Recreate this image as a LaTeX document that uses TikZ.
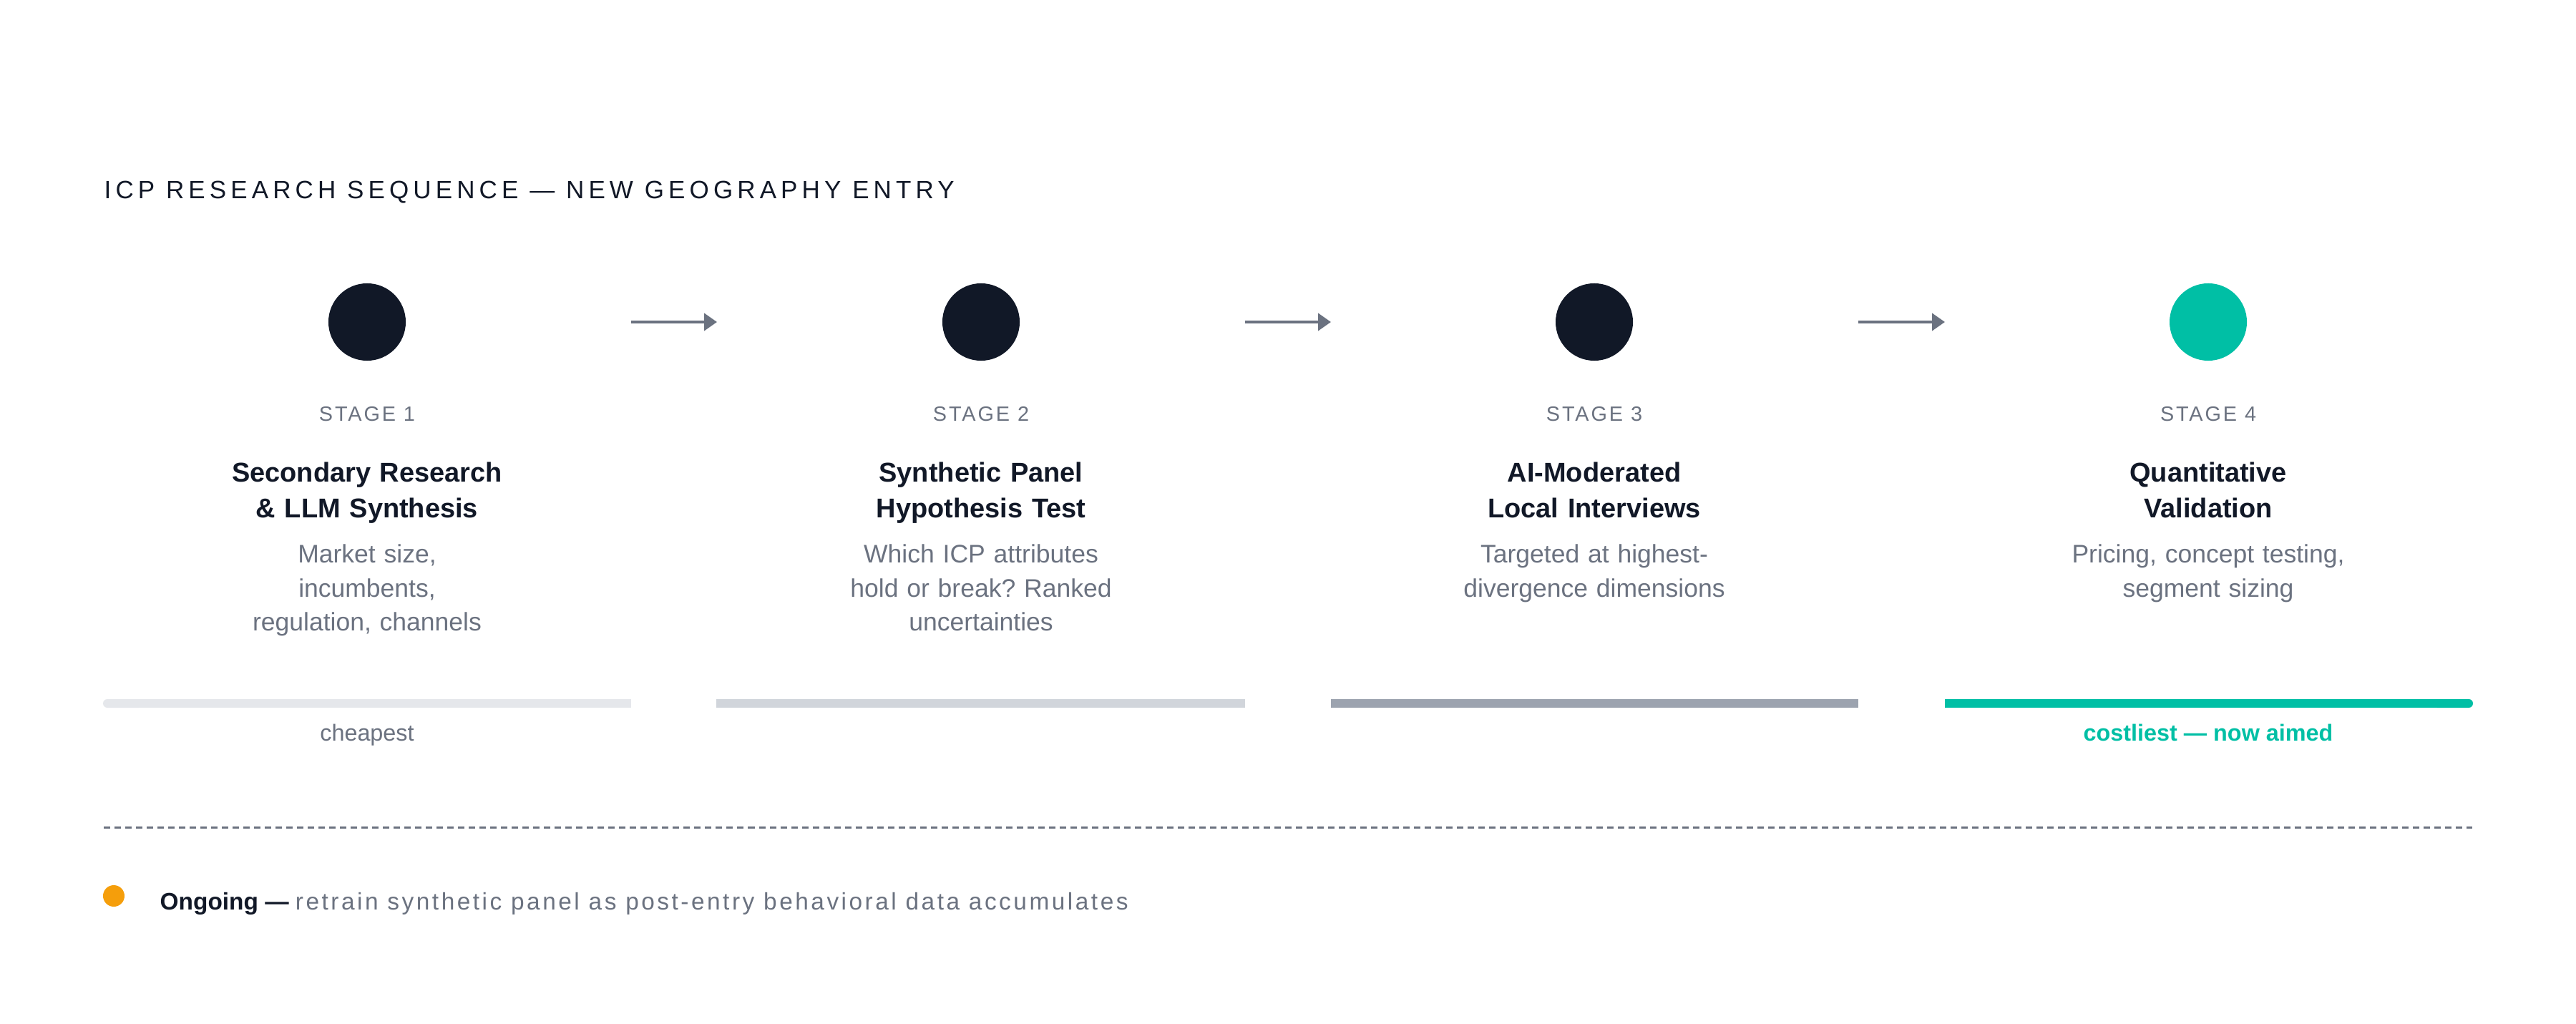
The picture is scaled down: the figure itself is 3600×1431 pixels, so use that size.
\documentclass[tikz,border=0pt]{standalone}
\usepackage{fontspec}
\setmainfont{Liberation Sans}
\newfontfamily\headfont[LetterSpace=17.5]{Liberation Sans}
\newfontfamily\stagefont[LetterSpace=10]{Liberation Sans}
\newfontfamily\wideregfont[LetterSpace=10.5]{Liberation Sans}
\usetikzlibrary{arrows.meta}
\definecolor{ink}{HTML}{111827}
\definecolor{muted}{HTML}{6B7280}
\definecolor{teal}{HTML}{00BFA5}
\definecolor{barA}{HTML}{E5E7EB}
\definecolor{barB}{HTML}{D1D5DB}
\definecolor{barC}{HTML}{9CA3AF}
\definecolor{amber}{HTML}{F59E0B}
\tikzset{
  dot/.style={circle, fill=ink, minimum size=1.08cm, inner sep=0pt},
  stagelbl/.style={anchor=base, inner sep=0pt, text=muted, font=\stagefont\fontsize{8.2}{10}\selectfont},
  ttl/.style={anchor=base, inner sep=0pt, text=ink, text width=5cm, align=center, font=\fontsize{10.8}{13.94}\selectfont\bfseries},
  desc/.style={anchor=base, inner sep=0pt, text=muted, text width=5cm, align=center, font=\fontsize{10.1}{13.37}\selectfont},
  barlbl/.style={anchor=base, inner sep=0pt, text=muted, font=\fontsize{9.2}{11}\selectfont},
  arr/.style={draw=muted, line width=0.04cm, -{Triangle[length=0.18cm, width=0.24cm]}},
}
\begin{document}
\frenchspacing
\begin{tikzpicture}[x=0.01cm, y=-0.01cm]
\useasboundingbox[fill=white] (0,0) rectangle (3600,1431);

\node[anchor=base west, inner sep=0pt, text=ink, font=\headfont\fontsize{9.95}{12}\selectfont] (head) at (145,278) {ICP RESEARCH SEQUENCE — NEW GEOGRAPHY ENTRY};

% circles
\node[dot] (c1) at (513,450) {};
\node[dot] (c2) at (1371,450) {};
\node[dot] (c3) at (2228,450) {};
\node[dot, fill=teal] (c4) at (3086,450) {};

% arrows
\coordinate (a1s) at (882,450); \coordinate (a1e) at (1002,450);
\coordinate (a2s) at (1740,450); \coordinate (a2e) at (1860,450);
\coordinate (a3s) at (2597,450); \coordinate (a3e) at (2718,450);
\draw[arr] (a1s) -- (a1e);
\draw[arr] (a2s) -- (a2e);
\draw[arr] (a3s) -- (a3e);

% stage labels
\node[stagelbl] (s1) at (513,589) {STAGE 1};
\node[stagelbl] (s2) at (1371,589) {STAGE 2};
\node[stagelbl] (s3) at (2228,589) {STAGE 3};
\node[stagelbl] (s4) at (3086,589) {STAGE 4};

% titles
\node[ttl] (t1) at (513,674) {Secondary Research\\ \& LLM Synthesis};
\node[ttl] (t2) at (1371,674) {Synthetic Panel\\ Hypothesis Test};
\node[ttl] (t3) at (2228,674) {AI-Moderated\\ Local Interviews};
\node[ttl] (t4) at (3086,674) {Quantitative\\ Validation};

% descriptions
\node[desc] (d1) at (513,787) {Market size,\\ incumbents,\\ regulation, channels};
\node[desc] (d2) at (1371,787) {Which ICP attributes\\ hold or break? Ranked\\ uncertainties};
\node[desc] (d3) at (2228,787) {Targeted at highest-\\ divergence dimensions};
\node[desc] (d4) at (3086,787) {Pricing, concept testing,\\ segment sizing};

% cost bars
\fill[barA, rounded corners=0.06cm] (144,977) rectangle (200,989);
\fill[barA] (180,977) rectangle (882,989);
\fill[barB] (1001,977) rectangle (1740,989);
\fill[barC] (1860,977) rectangle (2597,989);
\fill[teal] (2718,977) rectangle (3420,989);
\fill[teal, rounded corners=0.06cm] (3400,977) rectangle (3456,989);

\node[barlbl] (b1) at (513,1035) {cheapest};
\node[barlbl, text=teal, font=\fontsize{9.2}{11}\selectfont\bfseries] (b4) at (3086,1035) {costliest — now aimed};

% divider
\coordinate (dl) at (145,1156); \coordinate (dr) at (3455,1156);
\draw[muted, line width=0.03cm, dash pattern=on 0.09cm off 0.06cm] (dl) -- (dr);

% ongoing note
\node[circle, fill=amber, minimum size=0.3cm, inner sep=0pt] (od) at (159,1252) {};
\node[anchor=base west, inner sep=0pt, font=\fontsize{9.5}{11}\selectfont] (ot) at (223,1271) {\textcolor{ink}{\bfseries Ongoing —} \textcolor{muted}{\wideregfont retrain synthetic panel as post-entry behavioral data accumulates}};
\end{tikzpicture}
\end{document}
